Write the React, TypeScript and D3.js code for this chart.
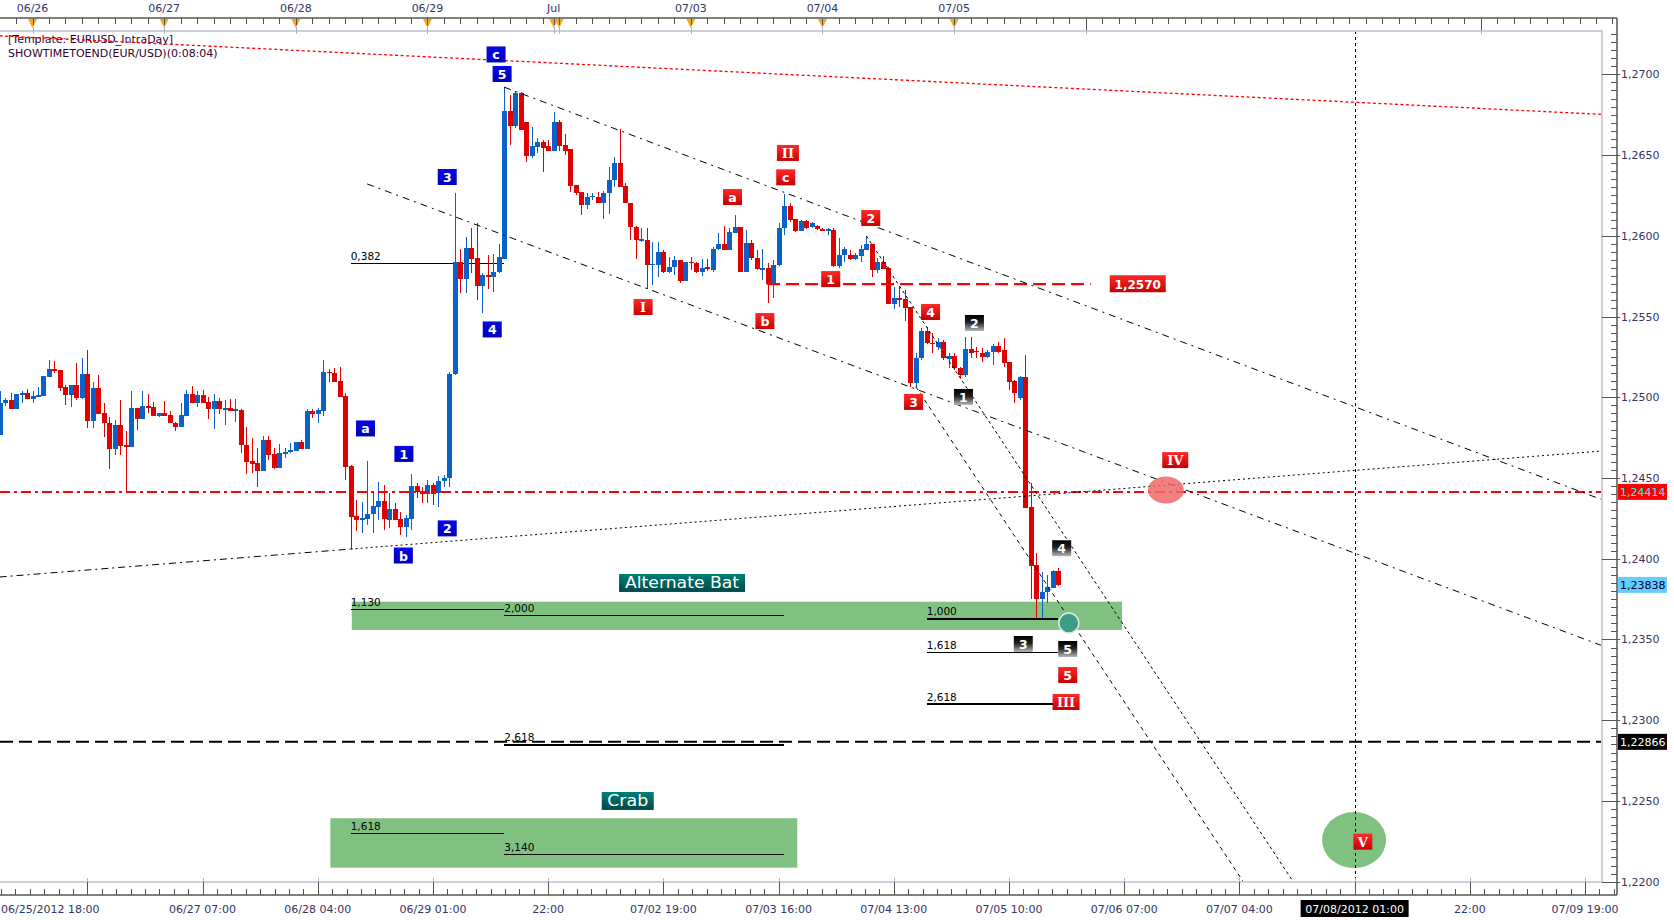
import React, { useEffect } from "react";
import * as d3 from "d3";

// ---- hourly candles (first bar = 06/25 18:00, hour index -6) ----
const BAR_START_HOUR = -6;

const opens = [
  1.24767,1.24963,1.24984,1.24930,1.25017,1.25029,1.24992,1.25004,1.25008,1.25128,
  1.25176,1.25169,1.25066,1.25017,1.25077,1.24996,1.25145,1.24856,1.25058,1.24901,
  1.24839,1.24682,1.24829,1.24705,1.24695,1.24932,1.24868,1.24946,1.24938,1.24887,
  1.24901,1.24889,1.24843,1.24818,1.24887,1.25021,1.24967,1.25015,1.24973,1.24926,
  1.24977,1.24922,1.24932,1.24922,1.24922,1.24703,1.24606,1.24591,1.24546,1.24736,
  1.24649,1.24563,1.24651,1.24660,1.24668,1.24724,1.24680,1.24913,1.24897,1.24918,
  1.25159,1.25153,1.25101,1.25008,1.24575,1.24265,1.24244,1.24247,1.24276,1.24323,
  1.24358,1.24240,1.24309,1.24247,1.24199,1.24249,1.24451,1.24422,1.24400,1.24457,
  1.24406,1.24480,1.24501,1.25144,1.25836,1.25733,1.25923,1.25861,1.25692,1.25758,
  1.25747,1.25778,1.25857,1.26775,1.26682,1.26883,1.26707,1.26495,1.26552,1.26583,
  1.26556,1.26528,1.26707,1.26563,1.26536,1.26315,1.26269,1.26191,1.26245,1.26243,
  1.26206,1.26263,1.26346,1.26449,1.26309,1.26202,1.26053,1.25974,1.25974,1.25816,
  1.25820,1.25898,1.25778,1.25805,1.25851,1.25723,1.25840,1.25830,1.25778,1.25805,
  1.25789,1.25917,1.25950,1.25913,1.26020,1.26057,1.25778,1.25958,1.25861,1.25793,
  1.25799,1.25702,1.25820,1.26046,1.26184,1.26104,1.26032,1.26092,1.26057,1.26061,
  1.26044,1.26032,1.26036,1.25815,1.25882,1.25881,1.25856,1.25877,1.25912,1.25949,
  1.25788,1.25840,1.25802,1.25578,1.25613,1.25609,1.25561,1.25086,1.25241,1.25413,
  1.25338,1.25313,1.25344,1.25239,1.25256,1.25179,1.25138,1.25297,1.25287,1.25276,
  1.25247,1.25278,1.25318,1.25293,1.25221,1.25101,1.24994,1.25127,1.24322,1.23961,
  1.23749,1.23796,1.23817,1.23924,
];
const highs = [
  1.25041,1.24994,1.25029,1.25021,1.25041,1.25052,1.25039,1.25066,1.25132,1.25231,
  1.25225,1.25169,1.25077,1.25077,1.25215,1.25242,1.25293,1.25097,1.25138,1.24963,
  1.24880,1.24860,1.24984,1.24792,1.25039,1.24932,1.25039,1.25021,1.24973,1.24901,
  1.24977,1.24918,1.24847,1.24963,1.25046,1.25070,1.25041,1.25046,1.25004,1.25021,
  1.24996,1.24984,1.24988,1.24990,1.24926,1.24814,1.24746,1.24688,1.24761,1.24763,
  1.24688,1.24711,1.24688,1.24719,1.24726,1.24736,1.24926,1.24926,1.24932,1.25231,
  1.25174,1.25180,1.25186,1.25029,1.24581,1.24364,1.24354,1.24608,1.24410,1.24476,
  1.24459,1.24410,1.24348,1.24292,1.24272,1.24525,1.24468,1.24447,1.24488,1.24468,
  1.24513,1.24519,1.25158,1.26263,1.25919,1.25995,1.26051,1.26082,1.25768,1.25882,
  1.25888,1.25950,1.26920,1.26872,1.26899,1.26889,1.26707,1.26672,1.26604,1.26594,
  1.26594,1.26769,1.26717,1.26631,1.26536,1.26315,1.26269,1.26263,1.26263,1.26274,
  1.26280,1.26428,1.26490,1.26662,1.26325,1.26202,1.26063,1.26047,1.26047,1.25964,
  1.25964,1.25912,1.25871,1.25877,1.25851,1.25840,1.25871,1.25840,1.25855,1.25857,
  1.25933,1.26016,1.26061,1.26047,1.26129,1.26057,1.26036,1.25974,1.25912,1.25917,
  1.25830,1.25851,1.26078,1.26259,1.26201,1.26104,1.26098,1.26098,1.26085,1.26066,
  1.26048,1.26046,1.26046,1.25985,1.25933,1.25912,1.25896,1.25943,1.25999,1.25949,
  1.25860,1.25875,1.25809,1.25685,1.25685,1.25664,1.25561,1.25272,1.25427,1.25437,
  1.25396,1.25365,1.25355,1.25272,1.25272,1.25189,1.25375,1.25375,1.25313,1.25303,
  1.25293,1.25330,1.25344,1.25365,1.25221,1.25107,1.25132,1.25262,1.24467,1.24034,
  1.23920,1.23899,1.23930,1.23941,
];
const lows = [
  1.24767,1.24946,1.24930,1.24930,1.24963,1.24990,1.24963,1.25000,1.25008,1.25128,
  1.25149,1.25041,1.24953,1.24942,1.24984,1.24992,1.24812,1.24812,1.24895,1.24752,
  1.24554,1.24641,1.24645,1.24414,1.24695,1.24798,1.24868,1.24901,1.24887,1.24880,
  1.24887,1.24839,1.24792,1.24818,1.24887,1.24967,1.24938,1.24967,1.24864,1.24806,
  1.24897,1.24827,1.24916,1.24849,1.24657,1.24527,1.24529,1.24447,1.24546,1.24612,
  1.24556,1.24563,1.24622,1.24653,1.24668,1.24680,1.24680,1.24870,1.24839,1.24887,
  1.25097,1.25097,1.25004,1.24488,1.24060,1.24172,1.24158,1.24208,1.24158,1.24240,
  1.24178,1.24193,1.24240,1.24148,1.24134,1.24178,1.24375,1.24344,1.24344,1.24334,
  1.24319,1.24447,1.24447,1.25140,1.25644,1.25644,1.25768,1.25603,1.25520,1.25669,
  1.25654,1.25768,1.25857,1.26563,1.26666,1.26656,1.26459,1.26484,1.26515,1.26398,
  1.26528,1.26528,1.26528,1.26501,1.26274,1.26253,1.26129,1.26164,1.26222,1.26202,
  1.26107,1.26135,1.26305,1.26305,1.26202,1.25974,1.25855,1.25964,1.25669,1.25696,
  1.25747,1.25768,1.25768,1.25758,1.25710,1.25723,1.25789,1.25768,1.25751,1.25784,
  1.25778,1.25913,1.25913,1.25913,1.26020,1.25778,1.25778,1.25851,1.25789,1.25727,
  1.25582,1.25613,1.25810,1.26005,1.26087,1.26026,1.26030,1.26040,1.26050,1.26036,
  1.26028,1.26005,1.25809,1.25799,1.25840,1.25850,1.25850,1.25840,1.25912,1.25743,
  1.25768,1.25792,1.25578,1.25545,1.25561,1.25472,1.25066,1.25066,1.25231,1.25330,
  1.25272,1.25293,1.25231,1.25179,1.25169,1.25117,1.25128,1.25241,1.25241,1.25221,
  1.25241,1.25200,1.25272,1.25190,1.25045,1.24963,1.24983,1.24316,1.23749,1.23631,
  1.23631,1.23728,1.23817,1.23831,
];
const closes = [
  1.24963,1.24984,1.24930,1.25021,1.25029,1.24990,1.25008,1.25015,1.25132,1.25176,
  1.25165,1.25058,1.25017,1.25077,1.24996,1.25145,1.24856,1.25056,1.24897,1.24839,
  1.24682,1.24829,1.24701,1.24695,1.24932,1.24868,1.24946,1.24936,1.24887,1.24901,
  1.24887,1.24839,1.24818,1.24891,1.25021,1.24967,1.25015,1.24967,1.24926,1.24977,
  1.24926,1.24932,1.24918,1.24926,1.24703,1.24602,1.24589,1.24546,1.24736,1.24645,
  1.24563,1.24653,1.24662,1.24674,1.24724,1.24680,1.24913,1.24897,1.24922,1.25159,
  1.25149,1.25097,1.25004,1.24571,1.24261,1.24240,1.24251,1.24278,1.24327,1.24358,
  1.24244,1.24309,1.24240,1.24199,1.24253,1.24451,1.24416,1.24400,1.24457,1.24400,
  1.24480,1.24501,1.25144,1.25836,1.25733,1.25923,1.25857,1.25692,1.25758,1.25747,
  1.25778,1.25871,1.26775,1.26682,1.26883,1.26656,1.26495,1.26556,1.26583,1.26542,
  1.26528,1.26707,1.26556,1.26528,1.26309,1.26263,1.26191,1.26243,1.26249,1.26206,
  1.26263,1.26346,1.26449,1.26305,1.26202,1.26053,1.25974,1.25980,1.25816,1.25826,
  1.25898,1.25778,1.25809,1.25851,1.25723,1.25840,1.25830,1.25778,1.25799,1.25793,
  1.25917,1.25950,1.25913,1.26026,1.26057,1.25778,1.25958,1.25861,1.25793,1.25799,
  1.25702,1.25820,1.26046,1.26184,1.26098,1.26032,1.26092,1.26046,1.26077,1.26040,
  1.26032,1.26040,1.25815,1.25882,1.25917,1.25854,1.25881,1.25918,1.25949,1.25788,
  1.25840,1.25794,1.25578,1.25613,1.25602,1.25555,1.25086,1.25241,1.25413,1.25334,
  1.25330,1.25344,1.25241,1.25256,1.25179,1.25138,1.25297,1.25272,1.25278,1.25252,
  1.25278,1.25318,1.25282,1.25214,1.25097,1.25025,1.25128,1.24316,1.23957,1.23749,
  1.23796,1.23827,1.23924,1.23838,
];

// ---- time axis (hour index 0 = 06/26 00:00) ----
const topDayLabels = ["06/26", "06/27", "06/28", "06/29", "Jul", "07/03", "07/04", "07/05"];
const topDayHours = [0, 24, 48, 72, 95, 120, 144, 168];
const topMarkerHours = [0, 24, 48, 72, 95, 96, 120, 144, 168];
const topTallTickHours = [192, 264];
const bottomLabels = ["06/25/2012 18:00", "06/27 07:00", "06/28 04:00", "06/29 01:00", "22:00", "07/02 19:00",
  "07/03 16:00", "07/04 13:00", "07/05 10:00", "07/06 07:00", "07/07 04:00", "07/08/2012 01:00", "22:00", "07/09 19:00"];
const bottomLabelHours = [-6, 31, 52, 73, 94, 115, 136, 157, 178, 199, 220, 241, 262, 283];
const bottomMajorHours = [10, 31, 52, 73, 94, 115, 136, 157, 178, 199, 220, 241, 262, 283];
const highlightedHour = 241;

// ---- price axis ----
const priceMajor = [1.22, 1.225, 1.23, 1.235, 1.24, 1.245, 1.25, 1.255, 1.26, 1.265, 1.27];
const priceTagValues = [1.24414, 1.23838, 1.22866];

// ---- drawn studies ----
const lineNames = ["resistance", "channelUpper", "channelLower", "baseLeft", "baseRight", "waveA", "waveB"];
const lineFrom: [number, number][] = [[-6, 1.27238], [86, 1.2692], [61, 1.26321], [-6, 1.23887], [58, 1.2406], [152, 1.25999], [161, 1.25066]];
const lineTo: [number, number][] = [[286, 1.26752], [286, 1.24367], [286, 1.23463], [58, 1.2406], [286, 1.24667], [229.8, 1.22], [220.7, 1.22]];

const fibLabels = ["0,382", "1,130", "2,000", "2,618", "1,618", "3,140", "1,000", "1,618", "2,618"];
const fibFrom = [58, 58, 86, 86, 58, 86, 163, 163, 163];
const fibTo = [86, 86, 137, 137, 86, 137, 187, 187, 186];
const fibPrice = [1.2583, 1.23686, 1.23647, 1.22847, 1.223, 1.2217, 1.23627, 1.23421, 1.231];

const zoneNames = ["Alternate Bat", "Crab"];
const zoneFrom = [58.2, 54.3];
const zoneTo = [198.6, 139.4];
const zoneLow = [1.23559, 1.22087];
const zoneHigh = [1.23734, 1.22393];
const zoneTitleHour = [118.4, 108.5];
const zoneTitlePrice = [1.2385, 1.225];

const level2570 = { price: 1.257, from: 133.9, to: 192.9, label: "1,2570" };
const supportLevel = 1.24414;
const targetLevel = 1.22866;

const waveTexts = ["c", "5", "3", "4", "a", "1", "2", "b",
  "II", "c", "a", "2", "1", "I", "b", "4", "3", "5", "III", "IV", "V",
  "2", "1", "4", "3", "5"];
const waveKinds = ["blue", "blue", "blue", "blue", "blue", "blue", "blue", "blue",
  "red", "red", "red", "red", "red", "red", "red", "red", "red", "red", "red", "red", "red",
  "black", "black", "black", "black", "black"];
const waveHours = [84.5, 85.6, 75.6, 83.8, 60.7, 67.7, 75.6, 67.6,
  137.7, 137.3, 127.6, 152.8, 145.5, 111.3, 133.5, 163.7, 160.6, 188.7, 188.4, 208.3, 242.5,
  171.7, 169.7, 187.6, 180.6, 188.7];
const wavePrices = [1.27123, 1.27002, 1.26364, 1.2542, 1.24807, 1.24649, 1.24188, 1.2402,
  1.26513, 1.26362, 1.2624, 1.2611, 1.25732, 1.25559, 1.25472, 1.25528, 1.24971, 1.2328, 1.23113, 1.24611, 1.22248,
  1.2546, 1.25002, 1.24065, 1.23472, 1.23441];

const ivTarget = { hour: 206.6, price: 1.24426 };
const batPoint = { hour: 188.9, price: 1.23602 };
const vTarget = { hour: 240.9, price: 1.22258 };

const FONT = "'DejaVu Sans', Verdana, sans-serif";
const AXIS_TEXT = "#333366";

export default function App() {
  useEffect(() => {
    document.body.style.margin = "0";
  }, []);

  const W = 1674, H = 920;
  const plotL = 0, plotR = 1602, plotT = 31, plotB = 882;
  const axisX = 1617, topAxisY = 18, botAxisY = 895;

  const x = d3.scaleLinear().domain([0, 264]).range([32.5, 32.5 + 264 * 5.486]);
  const y = d3.scaleLinear().domain([1.22, 1.27]).range([881.7, 74.3]);

  const fmt = (p: number, d = 4) => p.toFixed(d).replace(".", ",");

  // price ticks
  const minorPrices = d3.range(0, 106).map((k) => 1.22 + k * 0.0005).filter((p) => y(p) >= topAxisY + 4);
  // top ticks every 3 hours
  const topTicks = d3.range(-6, 292, 3).filter((h) => x(h) >= 0 && x(h) <= axisX);
  // bottom minor ticks
  const botMinor = d3.range(-40, 120).map((k) => 10 + k * 2.625).filter((h) => x(h) >= 0 && x(h) <= axisX);

  const lineStyles: Record<string, { stroke: string; dash: string; w: number }> = {
    resistance: { stroke: "#ff0000", dash: "3,2.5", w: 1.3 },
    channelUpper: { stroke: "#000", dash: "7,5,2,5", w: 1 },
    channelLower: { stroke: "#000", dash: "7,5,2,5", w: 1 },
    baseLeft: { stroke: "#000", dash: "7,4,2,4", w: 1 },
    baseRight: { stroke: "#000", dash: "2,3", w: 1 },
    waveA: { stroke: "#000", dash: "3,3", w: 1 },
    waveB: { stroke: "#000", dash: "4,4", w: 1 },
  };

  const boxSize = (t: string) => {
    if (t === "III") return 27;
    if (t === "IV") return 26;
    if (t === "II") return 22;
    return 19;
  };
  const fillFor = (k: string) => (k === "blue" ? "url(#gBlue)" : k === "red" ? "url(#gRed)" : "url(#gBlack)");

  return (
    <svg width={W} height={H} style={{ position: "absolute", left: 0, top: 0, background: "#fff" }} fontFamily={FONT}>
      <defs>
        <clipPath id="plotClip">
          <rect x={plotL} y={plotT} width={plotR - plotL} height={plotB - plotT} />
        </clipPath>
        <linearGradient id="gRed" x1="0" y1="0" x2="0" y2="1">
          <stop offset="0" stopColor="#ff2a2a" />
          <stop offset="1" stopColor="#c80000" />
        </linearGradient>
        <linearGradient id="gBlack" x1="0" y1="0" x2="0" y2="1">
          <stop offset="0" stopColor="#000000" />
          <stop offset="0.45" stopColor="#202020" />
          <stop offset="1" stopColor="#b8b8b8" />
        </linearGradient>
        <linearGradient id="gBlue" x1="0" y1="0" x2="0" y2="1">
          <stop offset="0" stopColor="#0808e6" />
          <stop offset="1" stopColor="#0000b8" />
        </linearGradient>
        <linearGradient id="gTeal" x1="0" y1="0" x2="0" y2="1">
          <stop offset="0" stopColor="#007f78" />
          <stop offset="1" stopColor="#004848" />
        </linearGradient>
      </defs>
      <rect x={0} y={0} width={W} height={H} fill="#fff" />

      {/* top header texts */}
      <text x={8} y={43} fontSize={11} fill="#330033">[Template: EURUSD_IntraDay]</text>
      <text x={8} y={56.5} fontSize={11} fill="#330033">SHOWTIMETOEND(EUR/USD)(0:08:04)</text>

      <g clipPath="url(#plotClip)">
        {/* zones */}
        {zoneNames.map((n, i) => (
          <rect key={n} x={x(zoneFrom[i])} width={x(zoneTo[i]) - x(zoneFrom[i])} y={y(zoneHigh[i])}
            height={y(zoneLow[i]) - y(zoneHigh[i])} fill="#80c080" />
        ))}

        {/* fib levels */}
        {fibLabels.map((t, i) => (
          <g key={"f" + i}>
            <line x1={x(fibFrom[i])} x2={x(fibTo[i])} y1={y(fibPrice[i])} y2={y(fibPrice[i])} stroke="#000" strokeWidth={1.3} shapeRendering="crispEdges" />
            <text x={x(fibFrom[i])} y={y(fibPrice[i]) - 3.5} fontSize={10.5} fill="#000">{t}</text>
          </g>
        ))}

        {/* V target circle */}
        <ellipse cx={x(vTarget.hour)} cy={y(vTarget.price)} rx={32} ry={28} fill="#80c080" />

        {/* candles */}
        <g shapeRendering="crispEdges">
          {opens.map((o, i) => {
            const h = i + BAR_START_HOUR;
            const cx = Math.round(x(h)) + 0.5;
            const c = closes[i];
            const up = c >= o;
            const col = up ? "#0a62c8" : "#e00000";
            const top = y(Math.max(o, c));
            const bot = y(Math.min(o, c));
            return (
              <g key={i}>
                <line x1={cx} x2={cx} y1={y(highs[i])} y2={y(lows[i])} stroke={col} strokeWidth={1} />
                <rect x={cx - 2.2} width={4.4} y={top} height={Math.max(1.5, bot - top)} fill={col} />
              </g>
            );
          })}
        </g>

        {/* horizontal levels */}
        <line x1={plotL} x2={plotR} y1={y(supportLevel)} y2={y(supportLevel)} stroke="#ff0000" strokeWidth={2} strokeDasharray="10,4,3,4" />
        <line x1={plotL} x2={plotR} y1={y(targetLevel)} y2={y(targetLevel)} stroke="#000" strokeWidth={2} strokeDasharray="13,6" />
        <line x1={x(level2570.from)} x2={x(level2570.to)} y1={y(level2570.price)} y2={y(level2570.price)} stroke="#ff0000" strokeWidth={2.2} strokeDasharray="13,6" />

        {/* trend lines */}
        {lineNames.map((n, i) => {
          const s = lineStyles[n];
          return (
            <line key={n} x1={x(lineFrom[i][0])} y1={y(lineFrom[i][1])} x2={x(lineTo[i][0])} y2={y(lineTo[i][1])}
              stroke={s.stroke} strokeWidth={s.w} strokeDasharray={s.dash} />
          );
        })}

        {/* vertical time marker */}
        <line x1={Math.round(x(highlightedHour)) + 0.5} x2={Math.round(x(highlightedHour)) + 0.5} y1={plotT} y2={plotB} stroke="#000" strokeWidth={1} strokeDasharray="3,3" />

        {/* IV ellipse & bat point */}
        <ellipse cx={x(ivTarget.hour)} cy={y(ivTarget.price)} rx={18} ry={13.5} fill="#f06a6a" fillOpacity={0.85} />
        <circle cx={x(batPoint.hour)} cy={y(batPoint.price)} r={10} fill="#3e9c84" stroke="#d6eee6" strokeWidth={1.5} />

        {/* zone titles */}
        {zoneNames.map((n, i) => {
          const w = n === "Crab" ? 52 : 126;
          const tw = n === "Crab" ? 41 : 114;
          const cx = x(zoneTitleHour[i]);
          const cy = y(zoneTitlePrice[i]);
          return (
            <g key={"zt" + n}>
              <rect x={cx - w / 2} y={cy - 9} width={w} height={18} fill="url(#gTeal)" />
              <text x={cx} y={cy + 5.5} textAnchor="middle" fontSize={16} fill="#fff" textLength={tw} lengthAdjust="spacingAndGlyphs">{n}</text>
            </g>
          );
        })}

        {/* 1,2570 tag */}
        <rect x={x(level2570.to) + 19} y={y(level2570.price) - 9} width={56} height={17} fill="url(#gRed)" />
        <text x={x(level2570.to) + 47} y={y(level2570.price) + 4.5} textAnchor="middle" fontSize={12} fontWeight="bold" fill="#fff">{level2570.label}</text>

        {/* wave labels */}
        {waveTexts.map((t, i) => {
          const w = boxSize(t);
          const cx = x(waveHours[i]);
          const cy = y(wavePrices[i]);
          const roman = /^[IV]+$/.test(t);
          return (
            <g key={"w" + i}>
              <rect x={cx - w / 2} y={cy - 8} width={w} height={16} fill={fillFor(waveKinds[i])} />
              <text x={cx} y={cy + 5} textAnchor="middle" fontSize={roman ? 13 : 12.5} fontWeight="bold" fill="#fff"
                fontFamily={roman ? "'DejaVu Serif', 'Liberation Serif', serif" : FONT}>{t}</text>
            </g>
          );
        })}
      </g>

      {/* plot border */}
      <path d={`M${plotL},${plotT}H${plotR}V${plotB}H${plotL}`} fill="none" stroke="#c9d1dc" strokeWidth={2} />

      {/* top axis */}
      <line x1={0} x2={axisX} y1={topAxisY} y2={topAxisY} stroke="#555" strokeWidth={1.5} />
      {topTicks.map((h) => (
        <line key={"tt" + h} x1={Math.round(x(h)) + 0.5} x2={Math.round(x(h)) + 0.5} y1={topAxisY} y2={topAxisY + 6} stroke="#555" strokeWidth={1} />
      ))}
      {topTallTickHours.map((h) => (
        <g key={"ttt" + h}>
          <line x1={Math.round(x(h)) + 0.5} x2={Math.round(x(h)) + 0.5} y1={topAxisY} y2={topAxisY + 13} stroke="#555" strokeWidth={1} />
          <line x1={Math.round(x(h)) + 0.5} x2={Math.round(x(h)) + 0.5} y1={plotT - 1} y2={plotT + 3} stroke="#aab4c4" strokeWidth={1} />
        </g>
      ))}
      {topMarkerHours.map((h, i) => (
        <g key={"tm" + i}>
          <line x1={Math.round(x(h)) + 0.5} x2={Math.round(x(h)) + 0.5} y1={plotT - 4} y2={plotT + 3} stroke="#aab4c4" strokeWidth={1} />
          <path d={`M${x(h) - 4.5},${topAxisY + 1}L${x(h) + 4.5},${topAxisY + 1}L${x(h)},${topAxisY + 10}Z`} fill="#f7a823" />
          <line x1={Math.round(x(h)) + 0.5} x2={Math.round(x(h)) + 0.5} y1={topAxisY} y2={topAxisY + 7} stroke="#555" strokeWidth={1} />
        </g>
      ))}
      {topDayLabels.map((t, i) => (
        <text key={"tl" + i} x={x(topDayHours[i])} y={12} textAnchor="middle" fontSize={11} fill={AXIS_TEXT}>{t}</text>
      ))}

      {/* right axis */}
      <line x1={axisX} x2={axisX} y1={topAxisY} y2={botAxisY} stroke="#555" strokeWidth={1.5} />
      {minorPrices.map((p, i) => (
        <line key={"pm" + i} x1={axisX - 6} x2={axisX} y1={Math.round(y(p)) + 0.5} y2={Math.round(y(p)) + 0.5} stroke="#555" strokeWidth={1} />
      ))}
      {priceMajor.map((p) => (
        <g key={"pM" + p}>
          <line x1={plotR} x2={axisX + 3} y1={Math.round(y(p)) + 0.5} y2={Math.round(y(p)) + 0.5} stroke="#555" strokeWidth={1} />
          <text x={axisX + 4} y={y(p) + 4} fontSize={11} fill={AXIS_TEXT}>{fmt(p)}</text>
        </g>
      ))}
      {priceTagValues.map((p, i) => {
        const bg = ["#ff0000", "#66ccff", "#000000"][i];
        const fg = ["#00ffff", "#000033", "#ffffff"][i];
        return (
          <g key={"tag" + i}>
            <rect x={axisX + 1} y={y(p) - 8} width={49} height={16} fill={bg} />
            <text x={axisX + 3} y={y(p) + 4} fontSize={11} fill={fg}>{fmt(p, 5)}</text>
          </g>
        );
      })}

      {/* bottom axis */}
      <line x1={0} x2={axisX} y1={botAxisY} y2={botAxisY} stroke="#555" strokeWidth={1.5} />
      {botMinor.map((h, i) => (
        <line key={"bm" + i} x1={Math.round(x(h)) + 0.5} x2={Math.round(x(h)) + 0.5} y1={botAxisY - 6} y2={botAxisY} stroke="#555" strokeWidth={1} />
      ))}
      {bottomMajorHours.map((h) => (
        <g key={"bM" + h}>
          <line x1={Math.round(x(h)) + 0.5} x2={Math.round(x(h)) + 0.5} y1={plotB} y2={botAxisY} stroke="#555" strokeWidth={1} />
          <line x1={Math.round(x(h)) + 0.5} x2={Math.round(x(h)) + 0.5} y1={plotB - 4} y2={plotB} stroke="#aab4c4" strokeWidth={1} />
        </g>
      ))}
      {bottomLabels.map((t, i) => {
        const h = bottomLabelHours[i];
        const first = i === 0;
        const hl = h === highlightedHour;
        const cx = first ? 1 : x(h);
        return (
          <g key={"bl" + i}>
            {hl && <rect x={cx - 54} y={900} width={108} height={17} fill="#000" />}
            <text x={cx} y={913} textAnchor={first ? "start" : "middle"} fontSize={11} fill={hl ? "#fff" : AXIS_TEXT}>{t}</text>
          </g>
        );
      })}
    </svg>
  );
}
